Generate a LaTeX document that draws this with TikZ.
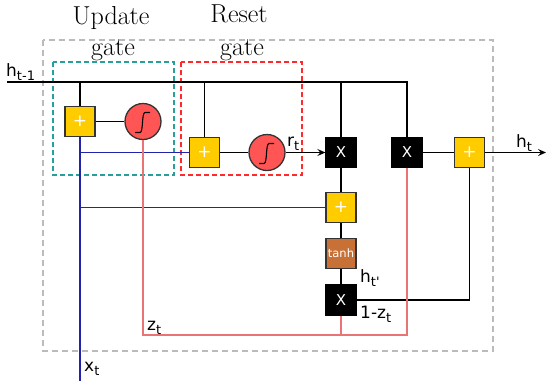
\documentclass[tikz,border=0pt]{standalone}
\usepackage{fontspec}
\newfontfamily\labfont{DejaVu Sans}
\usetikzlibrary{arrows.meta}
\definecolor{boxyellow}{HTML}{FFCC00}
\definecolor{sigred}{HTML}{FF5555}
\definecolor{tanhbrown}{HTML}{C87137}
\definecolor{wireblue}{HTML}{2222AA}
\definecolor{wirepink}{HTML}{E87474}
\definecolor{gatecyan}{HTML}{2A9D9D}
\definecolor{gatered}{HTML}{FF2A2A}
\definecolor{framegray}{HTML}{BBBBBB}
\definecolor{edgedark}{HTML}{333333}
\newcommand{\lsub}[1]{\raisebox{-4pt}{\fontsize{13}{13}\selectfont #1}}
\tikzset{
  plusbox/.style={draw=edgedark, line width=1.3pt, fill=boxyellow, minimum size=30pt, inner sep=0pt, text=white, font=\labfont\fontsize{17}{17}\selectfont},
  mulbox/.style={draw=black, line width=1.3pt, fill=black, minimum size=30pt, inner sep=0pt, text=white, font=\labfont\fontsize{15}{15}\selectfont},
  tanhbox/.style={draw=edgedark, line width=1.3pt, fill=tanhbrown, minimum size=30pt, inner sep=0pt, text=white, font=\labfont\fontsize{11.5}{11.5}\selectfont},
  sigcirc/.style={draw=edgedark, line width=1.3pt, fill=sigred, circle, minimum size=36pt, inner sep=0pt},
  wire/.style={draw=black, line width=1.4pt},
  bluewire/.style={draw=wireblue, line width=1.7pt},
  pinkwire/.style={draw=wirepink, line width=1.6pt},
  arrowwire/.style={wire, -{Stealth[length=8pt,width=7pt,inset=3pt]}},
  lbl/.style={font=\labfont\fontsize{17}{17}\selectfont, anchor=base west, inner sep=0pt},
  title/.style={font=\fontsize{26}{26}\selectfont, anchor=base, inner sep=0pt},
}
\begin{document}
\begin{tikzpicture}[x=1pt,y=-1pt]
\useasboundingbox (0,0) rectangle (550,384);
% frames
\draw[framegray, line width=1.2pt, dash pattern=on 6pt off 4pt] (43,40) rectangle (493,351);
\draw[gatecyan, line width=1.3pt, dash pattern=on 5pt off 3pt] (53,62) rectangle (174,175);
\draw[gatered, line width=1.3pt, dash pattern=on 5pt off 3pt] (181,62) rectangle (302,175);
% titles
\node[title] (t1) at (111,24) {Update};
\node[title] (t2) at (113,55) {gate};
\node[title] (t3) at (239,22) {Reset};
\node[title] (t4) at (242,55) {gate};
% coordinates
\coordinate (hin) at (7,82);
\coordinate (hcorner) at (407,82);
\coordinate (xt) at (80,381);
\coordinate (hout) at (546,152.5);
\coordinate (zbr) at (407,335);
% nodes
\node[plusbox] (p1) at (80,121.5) {+};
\node[sigcirc] (s1) at (143,121.5) {};
\node[plusbox] (p2) at (204.5,152.5) {+};
\node[sigcirc] (s2) at (267,152.5) {};
\node[mulbox] (m1) at (341,152.5) {X};
\node[mulbox] (m2) at (407,152.5) {X};
\node[plusbox] (p4) at (469.5,152.5) {+};
\node[plusbox] (p3) at (341,207.5) {+};
\node[tanhbox] (th) at (341,253.5) {tanh};
\node[mulbox] (m3) at (341,300) {X};
% sigmoid curves
\foreach \s in {s1,s2}{
  \draw[black, line width=1.1pt] ([shift={(-8pt,-11pt)}]\s.center) -- ([shift={(-3pt,-11pt)}]\s.center)
    .. controls ([shift={(0.5pt,-11pt)}]\s.center) and ([shift={(-1.5pt,9pt)}]\s.center) .. ([shift={(2pt,9pt)}]\s.center)
    -- ([shift={(7pt,9pt)}]\s.center);
}
% black wires
\draw[wire] (hin) -- (hcorner) -- (m2.north);
\draw[wire] (p1.north |- hin) -- (p1.north);
\draw[wire] (p2.north |- hin) -- (p2.north);
\draw[wire] (m1.north |- hin) -- (m1.north);
\draw[wire] (p1.east) -- (s1.west);
\draw[wire] (p2.east) -- (s2.west);
\draw[arrowwire] (s2.east) -- (m1.west);
\draw[wire] (m2.east) -- (p4.west);
\draw[arrowwire] (p4.east) -- (hout);
\draw[wire] (m1.south) -- (p3.north);
\draw[wire] (p3.south) -- (th.north);
\draw[wire] (th.south) -- (m3.north);
\draw[wire] (m3.east) -| (p4.south);
% blue wires
\draw[bluewire] (p1.south) -- (xt);
\draw[bluewire] (p1.south |- p2.west) -- (p2.west);
\draw[bluewire] (p1.south |- p3.west) -- (p3.west);
% pink wires
\draw[pinkwire] (s1.south) -- (s1.south |- zbr) -- (zbr) -- (m2.south);
\draw[pinkwire] (m3.south) -- (m3.south |- zbr);
% labels
\node[lbl] (lh1) at (6,76) {h\lsub{t-1}};
\node[lbl] (lr) at (287,146) {r\lsub{t}};
\node[lbl] (lht) at (516,147) {h\lsub{t}};
\node[lbl] (lz) at (147,330) {z\lsub{t}};
\node[lbl] (lx) at (84,371) {x\lsub{t}};
\node[lbl] (lhp) at (360,282) {h\lsub{t'}};
\node[lbl] (l1z) at (360,318) {1-z\lsub{t}};
\end{tikzpicture}
\end{document}
